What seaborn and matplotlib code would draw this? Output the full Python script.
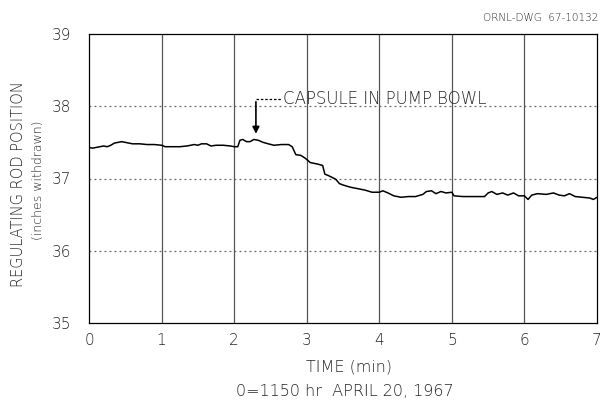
import matplotlib
matplotlib.use("Agg")
import matplotlib.pyplot as plt
import seaborn as sns
import pandas as pd

time_min = [0.00, 0.05, 0.10, 0.15, 0.20, 0.25, 0.30, 0.35, 0.40, 0.45, 0.50, 0.55, 0.60, 0.70,
            0.80, 0.90, 1.00, 1.05, 1.15, 1.25, 1.35, 1.45, 1.50, 1.55, 1.62, 1.68, 1.75, 1.85,
            1.95, 2.00, 2.05, 2.08, 2.12, 2.17, 2.22, 2.27, 2.33, 2.40, 2.47, 2.55, 2.65, 2.75,
            2.80, 2.85, 2.92, 2.98, 3.05, 3.15, 3.22, 3.25, 3.30, 3.40, 3.45, 3.50, 3.60, 3.70,
            3.80, 3.90, 4.00, 4.05, 4.12, 4.20, 4.30, 4.40, 4.50, 4.60, 4.65, 4.72, 4.78, 4.85,
            4.92, 5.00, 5.03, 5.15, 5.30, 5.45, 5.50, 5.55, 5.62, 5.70, 5.77, 5.85, 5.92, 6.00,
            6.05, 6.10, 6.18, 6.30, 6.40, 6.48, 6.55, 6.62, 6.70, 6.80, 6.90, 6.95, 7.00]
rod_position = [37.43, 37.42, 37.43, 37.44, 37.45, 37.44, 37.46, 37.49, 37.50, 37.51, 37.50, 37.49, 37.48, 37.48,
                37.47, 37.47, 37.46, 37.44, 37.44, 37.44, 37.45, 37.47, 37.46, 37.48, 37.48, 37.45, 37.46, 37.46,
                37.45, 37.44, 37.44, 37.53, 37.54, 37.51, 37.51, 37.54, 37.53, 37.50, 37.48, 37.46, 37.47, 37.47,
                37.44, 37.33, 37.32, 37.28, 37.22, 37.20, 37.18, 37.06, 37.04, 36.99, 36.93, 36.91, 36.88, 36.86,
                36.84, 36.81, 36.81, 36.83, 36.80, 36.76, 36.74, 36.75, 36.75, 36.78, 36.82, 36.83, 36.79, 36.82,
                36.80, 36.81, 36.76, 36.75, 36.75, 36.75, 36.80, 36.82, 36.78, 36.80, 36.77, 36.80, 36.76, 36.76,
                36.71, 36.77, 36.79, 36.78, 36.80, 36.77, 36.76, 36.79, 36.75, 36.74, 36.73, 36.71, 36.74]

x_ticks = [0, 1, 2, 3, 4, 5, 6, 7]
y_ticks = [35, 36, 37, 38, 39]
annotation_time = 2.30
annotation_value = 37.58

sns.set_theme(style="white")
plt.rcParams['font.family'] = ['DejaVu Sans']
FW = "light"

df = pd.DataFrame({"t": time_min, "pos": rod_position})

fig = plt.figure(figsize=(6.08, 4.04), dpi=100)
ax = fig.add_axes([89/608, 1 - 323/404, (597 - 89)/608, (323 - 34)/404])

# grid
for xv in x_ticks[1:-1]:
    ax.axvline(xv, color="#555555", lw=0.9, zorder=1)
for yv in y_ticks[1:-1]:
    ax.axhline(yv, color="#666666", lw=0.9, ls=(0, (1.5, 2.5)), zorder=1)

sns.lineplot(data=df, x="t", y="pos", ax=ax, color="black", lw=1.1, zorder=3)

ax.set_xlim(0, 7)
ax.set_ylim(35, 39)
ax.set_xticks(x_ticks)
ax.set_yticks(y_ticks)
ax.set_xticklabels([str(v) for v in x_ticks], fontsize=11, fontweight=FW)
ax.set_yticklabels([str(v) for v in y_ticks], fontsize=11, fontweight=FW)
ax.tick_params(axis="x", length=0, pad=7)
ax.tick_params(axis="y", length=0, pad=13)
for s in ax.spines.values():
    s.set_color("black")
    s.set_linewidth(0.9)
ax.set_xlabel("")
ax.set_ylabel("")

fig.text(349/608, 1 - 367/404, "TIME (min)", ha="center", va="center", fontsize=11.5, fontweight=FW)
fig.text(345/608, 1 - 391/404, "0=1150 hr  APRIL 20, 1967", ha="center", va="center", fontsize=11.5, fontweight=FW)
fig.text(19/608, 1 - 184/404, "REGULATING ROD POSITION", rotation=90, ha="center", va="center", fontsize=10.5, fontweight=FW)
fig.text(38/608, 1 - 180/404, "(inches withdrawn)", rotation=90, ha="center", va="center", fontsize=9, fontweight=FW)
fig.text(598/608, 1 - 18/404, "ORNL-DWG  67-10132", ha="right", va="center", fontsize=7.5, fontweight=FW)

# annotation
ax.annotate("", xy=(annotation_time, annotation_value), xytext=(annotation_time, 38.10),
            arrowprops=dict(arrowstyle="-|>", color="black", lw=1.2, mutation_scale=10))
ax.plot([annotation_time, 2.66], [38.10, 38.10], color="black", lw=0.9, ls=(0, (2, 1.5)))
ax.text(2.68, 38.10, "CAPSULE IN PUMP BOWL", ha="left", va="center", fontsize=12, fontweight=FW)

fig.savefig("out.png", dpi=100)
